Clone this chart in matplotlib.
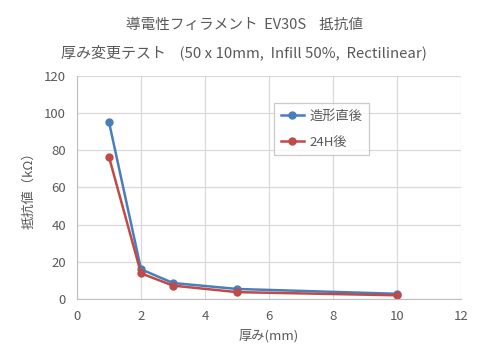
import matplotlib
matplotlib.use('Agg')
import matplotlib.pyplot as plt

plt.rcParams['font.family'] = ['Noto Sans CJK JP', 'DejaVu Sans']

thickness = [1, 2, 3, 5, 10]
after_print = [95.2, 16.0, 8.6, 5.4, 2.8]
after_24h = [76.4, 13.8, 7.2, 3.7, 2.0]
series_names = ['造形直後', '24H後']

text_color = '#595959'

fig = plt.figure(figsize=(4.88, 3.53), dpi=100)
ax = fig.add_axes([77 / 488, 54 / 353, 384 / 488, 223 / 353])

ax.plot(thickness, after_print, color='#4a7ebb', marker='o', markersize=5,
        linewidth=1.8, label=series_names[0])
ax.plot(thickness, after_24h, color='#be4b48', marker='o', markersize=5,
        linewidth=1.8, label=series_names[1])

ax.set_xlim(0, 12)
ax.set_ylim(0, 120)
ax.set_xticks(range(0, 13, 2))
ax.set_yticks(range(0, 121, 20))
ax.grid(True, color='#d9d9d9', linewidth=0.9)
ax.set_axisbelow(True)
for side in ['top', 'right']:
    ax.spines[side].set_visible(False)
for side in ['left', 'bottom']:
    ax.spines[side].set_color('#bfbfbf')
ax.tick_params(length=0, labelsize=9.5, colors=text_color, pad=8)

ax.set_xlabel('厚み(mm)', fontsize=9.5, color=text_color, labelpad=4)
ax.set_ylabel('抵抗値（kΩ）', fontsize=9.5, color=text_color, labelpad=6)

fig.text(0.5, 1 - 25 / 353, '導電性フィラメント  EV30S    抵抗値', ha='center', va='center',
         fontsize=10.5, color=text_color)
fig.text(0.5, 1 - 52 / 353, '厚み変更テスト    (50 x 10mm,  Infill 50%,  Rectilinear)',
         ha='center', va='center', fontsize=10.8, color=text_color)

leg = ax.legend(loc='upper left', bbox_to_anchor=((274 - 77) / 384, (299 - 103) / 223),
                borderaxespad=0, frameon=True, fancybox=False, fontsize=9.5,
                labelspacing=1.0, handlelength=1.8, handletextpad=0.4,
                borderpad=0.5, labelcolor=text_color)
leg.get_frame().set_edgecolor('#bfbfbf')
leg.get_frame().set_linewidth(0.9)

fig.savefig('out.png', dpi=100)
